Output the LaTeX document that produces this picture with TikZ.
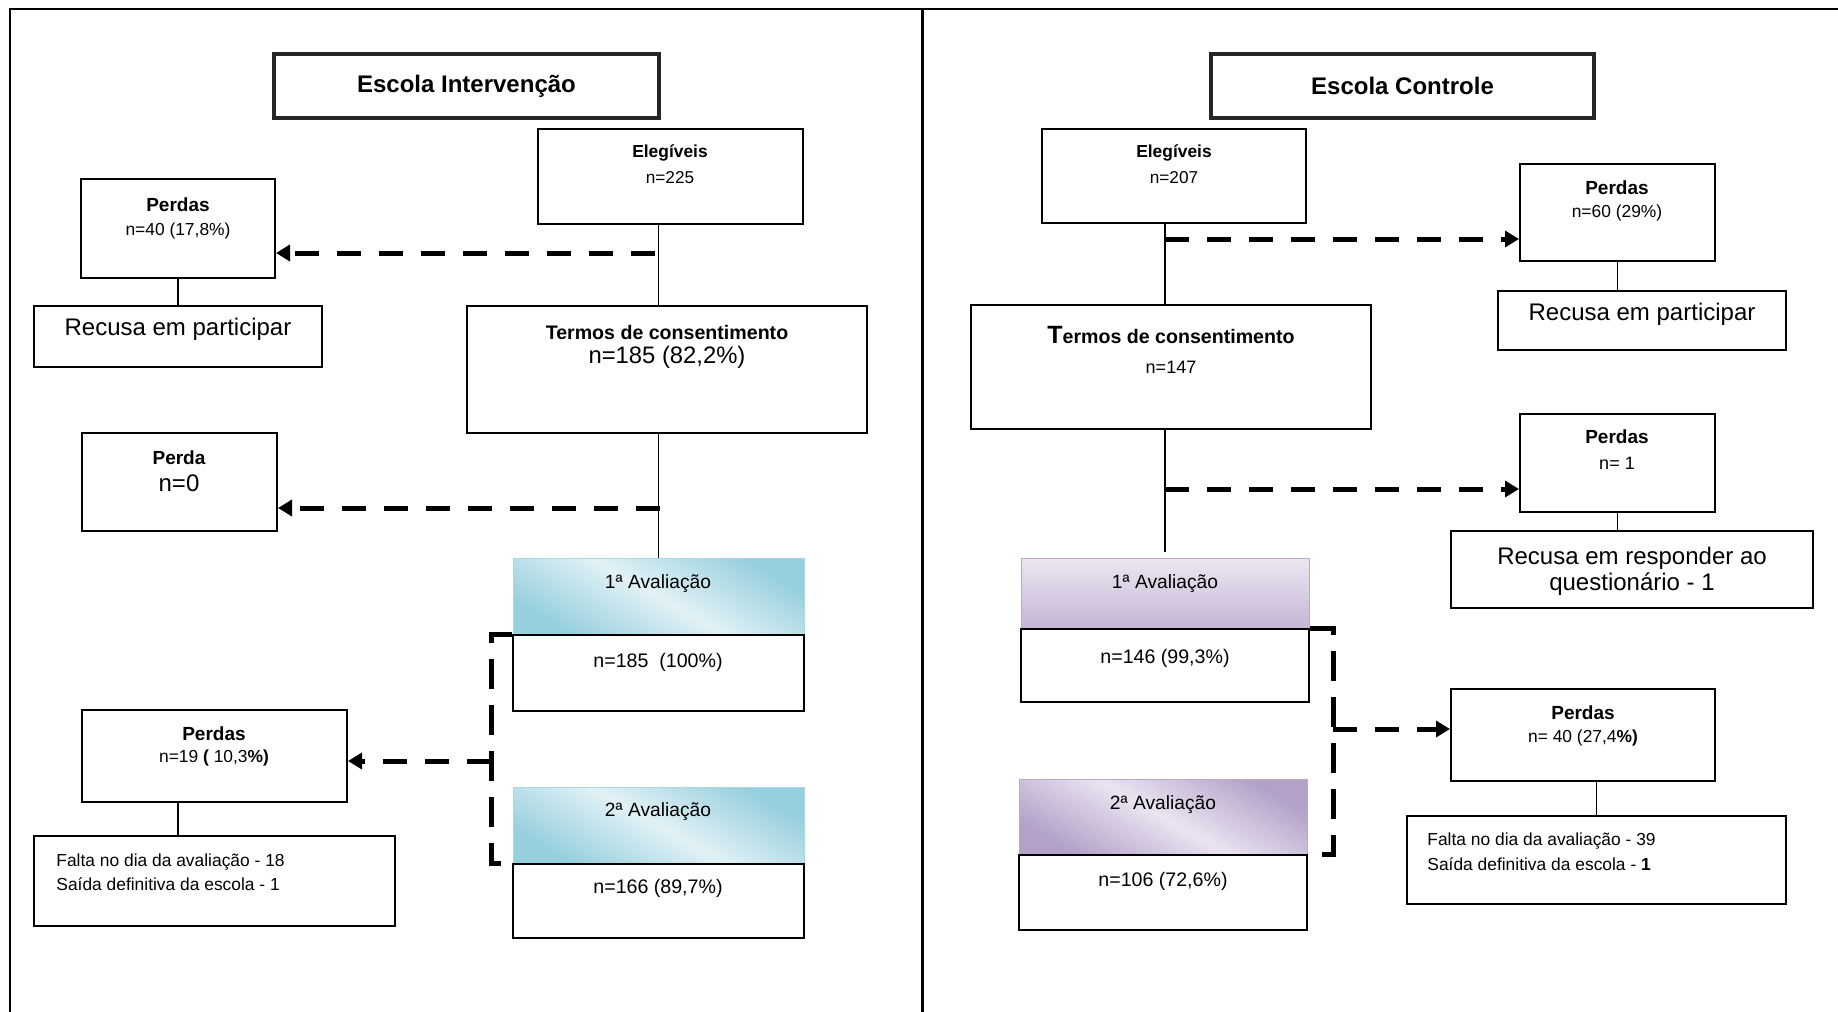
\documentclass[tikz,border=0pt]{standalone}
\usepackage{fontspec}
\setmainfont{Liberation Sans}
\usetikzlibrary{arrows.meta,fit,calc}
\newcommand{\fsz}[2]{\fontsize{#1}{#2}\selectfont}
\definecolor{blueD}{HTML}{96CFDD}
\definecolor{blueL}{HTML}{E2F1F6}
\definecolor{blueB}{HTML}{A8D8E3}
\definecolor{purD}{HTML}{B3A1C8}
\definecolor{purL}{HTML}{EAE4F1}
\definecolor{purB}{HTML}{B9A8CD}
\tikzset{
  box/.style={draw=black, line width=1pt, fill=white, inner sep=0pt},
  titlebox/.style={draw=black!85, line width=2pt, inner sep=0pt},
  hdrblue/.style={draw=blueB, line width=0.5pt, inner sep=0pt, top color=blueD, bottom color=blueD, middle color=blueL, shading angle=-30},
  hdrpurA/.style={draw=purB, line width=0.5pt, inner sep=0pt, top color=purL!90!white, bottom color=purD!70!purL},
  hdrpurB/.style={draw=purB, line width=0.5pt, inner sep=0pt, top color=purD, bottom color=purD, middle color=purL, shading angle=-30},
  txt/.style={inner sep=0pt},
  thinline/.style={line width=0.85pt},
  dasharrow/.style={line width=2.5pt, dash pattern=on 12pt off 9pt, -{Triangle[length=7pt,width=8pt]}},
  bracket/.style={line width=2.5pt, dash pattern=on 15pt off 8pt},
}
\begin{document}
\begin{tikzpicture}[x=0.5pt,y=-0.5pt]
\useasboundingbox (0,0) rectangle (1838,1012);
\fill[white] (0,0) rectangle (1838,1012);
% frame
\draw[line width=1.25pt] (10,1012) -- (10,9) -- (1838,9);
\draw[line width=1.5pt] (922,9) -- (922,1012);

% ---------------- left panel ----------------
\node[titlebox, fit={(274,54) (659,118)}] (title1) {};
\node[txt, font=\bfseries\fsz{12pt}{14pt}] (title1t) at (title1.center) {Escola Intervenção};

\node[box, fit={(538,129) (803,224)}] (e1) {};
\node[txt, font=\bfseries\fsz{8.7pt}{11pt}] (e1a) at (670,153) {Elegíveis};
\node[txt, font=\fsz{8.6pt}{11pt}] (e1b) at (670,178) {n=225};

\node[box, fit={(81,179) (275,278)}] (p1) {};
\node[txt, font=\bfseries\fsz{9.5pt}{11pt}] (p1a) at (178,205) {Perdas};
\node[txt, font=\fsz{8.7pt}{11pt}] (p1b) at (178,231) {n=40 (17,8\%)};

\node[box, fit={(34,306) (322,367)}] (r1) {};
\node[txt, font=\fsz{12pt}{14pt}] (r1a) at (178,329) {Recusa em participar};

\node[box, fit={(467,306) (867,433)}] (t1) {};
\node[txt, font=\bfseries\fsz{9.8pt}{12pt}] (t1a) at (667,332) {Termos de consentimento};
\node[txt, font=\fsz{11.9pt}{14pt}] (t1b) at (667,357) {n=185 (82,2\%)};

\node[box, fit={(82,433) (277,531)}] (p2) {};
\node[txt, font=\bfseries\fsz{9.5pt}{11pt}] (p2a) at (179,458) {Perda};
\node[txt, font=\fsz{12pt}{14pt}] (p2b) at (179,483) {n=0};

\node[hdrblue, fit={(513,558) (804,635)}] (h1) {};
\node[txt, font=\fsz{9.6pt}{12pt}] (h1a) at (658,584) {1ª Avaliação};
\node[box, fit={(513,635) (804,711)}] (b1) {};
\node[txt, font=\fsz{9.8pt}{12pt}] (b1a) at (658,662) {n=185\ \ (100\%)};

\node[box, fit={(82,710) (347,802)}] (p3) {};
\node[txt, font=\bfseries\fsz{9.5pt}{11pt}] (p3a) at (214,734) {Perdas};
\node[txt, font=\fsz{8.7pt}{11pt}] (p3b) at (214,758) {n=19 \textbf{(} 10,3\textbf{\%)}};

\node[box, fit={(34,836) (395,926)}] (f1) {};
\node[txt, font=\fsz{8.7pt}{12pt}, align=left, anchor=west] (f1a) at (56,872) {Falta no dia da avaliação - 18\\Saída definitiva da escola - 1};

\node[hdrblue, fit={(513,787) (804,864)}] (h2) {};
\node[txt, font=\fsz{9.6pt}{12pt}] (h2a) at (658,812) {2ª Avaliação};
\node[box, fit={(513,864) (804,938)}] (b2) {};
\node[txt, font=\fsz{9.8pt}{12pt}] (b2a) at (658,888) {n=166 (89,7\%)};

% left connectors
\draw[thinline] (h1.north |- e1.south) -- (h1.north |- t1.north);
\draw[thinline] (h1.north |- t1.south) -- (h1.north);
\draw[thinline] (p1.south) -- (p1.south |- r1.north);
\draw[thinline] (p3.south -| p1.south) -- (f1.north -| p1.south);
\coordinate (a1) at (655,253);
\draw[dasharrow] (a1) -- (a1 -| p1.east);
\coordinate (a2) at (660,508);
\draw[dasharrow] (a2) -- (a2 -| p2.east);
\coordinate (k1) at (491,761);
\draw[bracket] (b1.north west) -- (b1.north west -| k1) -- (b2.north west -| k1) -- (b2.north west);
\draw[dasharrow] (k1) -- (k1 -| p3.east);

% ---------------- right panel ----------------
\node[titlebox, fit={(1211,54) (1594,118)}] (title2) {};
\node[txt, font=\bfseries\fsz{12pt}{14pt}] (title2t) at (title2.center) {Escola Controle};

\node[box, fit={(1042,129) (1306,223)}] (e2) {};
\node[txt, font=\bfseries\fsz{8.7pt}{11pt}] (e2a) at (1174,153) {Elegíveis};
\node[txt, font=\fsz{8.6pt}{11pt}] (e2b) at (1174,178) {n=207};

\node[box, fit={(1520,164) (1715,261)}] (p4) {};
\node[txt, font=\bfseries\fsz{9.5pt}{11pt}] (p4a) at (1617,188) {Perdas};
\node[txt, font=\fsz{8.7pt}{11pt}] (p4b) at (1617,213) {n=60 (29\%)};

\node[box, fit={(1498,291) (1786,350)}] (r2) {};
\node[txt, font=\fsz{12pt}{14pt}] (r2a) at (1642,314) {Recusa em participar};

\node[box, fit={(971,305) (1371,429)}] (t2) {};
\node[txt, font=\bfseries\fsz{9.8pt}{12pt}] (t2a) at (1171,335) {{\fsz{12.5pt}{14pt}T}ermos de consentimento};
\node[txt, font=\fsz{9pt}{11pt}] (t2b) at (1171,367) {n=147};

\node[box, fit={(1520,414) (1715,512)}] (p5) {};
\node[txt, font=\bfseries\fsz{9.5pt}{11pt}] (p5a) at (1617,437) {Perdas};
\node[txt, font=\fsz{9pt}{11pt}] (p5b) at (1617,463) {n= 1};

\node[box, fit={(1451,531) (1813,608)}] (r3) {};
\node[txt, font=\fsz{12pt}{13pt}, align=center] (r3a) at (1632,571) {Recusa em responder ao\\questionário - 1};

\node[hdrpurA, fit={(1021,558) (1309,629)}] (h3) {};
\node[txt, font=\fsz{9.6pt}{12pt}] (h3a) at (1165,584) {1ª Avaliação};
\node[box, fit={(1021,629) (1309,702)}] (b3) {};
\node[txt, font=\fsz{9.8pt}{12pt}] (b3a) at (1165,658) {n=146 (99,3\%)};

\node[box, fit={(1451,689) (1715,781)}] (p6) {};
\node[txt, font=\bfseries\fsz{9.5pt}{11pt}] (p6a) at (1583,713) {Perdas};
\node[txt, font=\fsz{8.7pt}{11pt}] (p6b) at (1583,738) {n= 40 (27,4\textbf{\%)}};

\node[box, fit={(1407,816) (1786,904)}] (f2) {};
\node[txt, font=\fsz{8.7pt}{12.5pt}, align=left, anchor=west] (f2a) at (1427,851.5) {Falta no dia da avaliação - 39\\Saída definitiva da escola - \textbf{1}};

\node[hdrpurB, fit={(1019,779) (1307,855)}] (h4) {};
\node[txt, font=\fsz{9.6pt}{12pt}] (h4a) at (1163,805) {2ª Avaliação};
\node[box, fit={(1019,855) (1307,930)}] (b4) {};
\node[txt, font=\fsz{9.8pt}{12pt}] (b4a) at (1163,881) {n=106 (72,6\%)};

% right connectors
\draw[thinline] (h3.north |- e2.south) -- (h3.north |- t2.north);
\draw[thinline] (h3.north |- t2.south) -- ([yshift=3pt]h3.north);
\draw[thinline] (p4.south) -- (p4.south |- r2.north);
\draw[thinline] (p5.south) -- (p5.south |- r3.north);
\draw[thinline] (f2.north) -- (f2.north |- p6.south);
\coordinate (a3) at (1165,239);
\draw[dasharrow] (a3) -- (a3 -| p4.west);
\coordinate (a4) at (1165,489);
\draw[dasharrow] (a4) -- (a4 -| p5.west);
\coordinate (k2) at (1333,729);
\draw[bracket] (b3.north east) -- (b3.north east -| k2) -- (b4.north east -| k2) -- (b4.north east);
\draw[dasharrow] (k2) -- (k2 -| p6.west);
\end{tikzpicture}
\end{document}
